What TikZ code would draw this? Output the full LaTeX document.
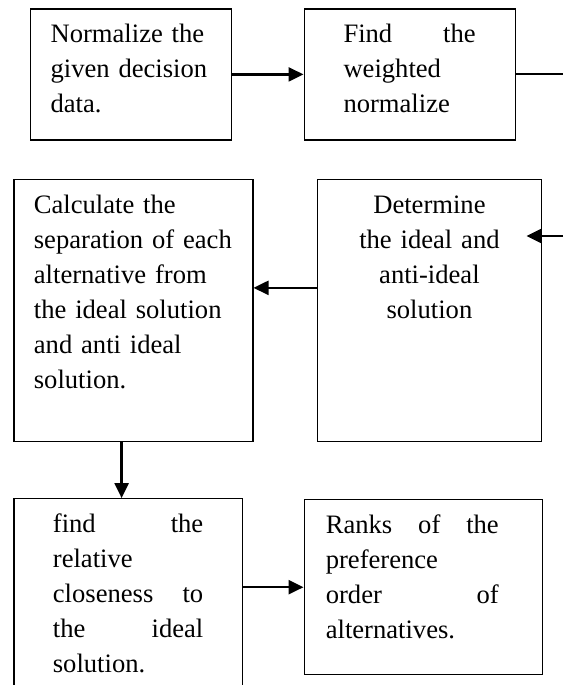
\documentclass[tikz,border=0pt]{standalone}
\usepackage{fontspec}
\setmainfont{Liberation Serif}
\usetikzlibrary{positioning,arrows.meta}

\tikzstyle{arrow} = [line width=1.2pt,-{Triangle[length=7.5pt,width=7pt]}]
\tikzstyle{link} = [line width=1pt]
\tikzstyle{stepbox} = [
        rectangle,
        draw=black,
        line width=0.6pt,
        inner ysep=0pt,
        text height=17pt,
        font=\fontsize{13.3pt}{17.5pt}\selectfont
    ]

\begin{document}
\begin{tikzpicture}
        \useasboundingbox (0,0) rectangle (281.5pt,-342.5pt);
        \coordinate (edgeR) at (281.5pt,0);
        % top row
        \node [stepbox, anchor=north west, align=left, inner xsep=10pt, text width=80.35pt, text depth=48.5pt] (normA) at (15pt,-4.15pt) {Normalize the\\given decision\\data.};
        \node [stepbox, right=35.8pt of normA, align=justify, inner xsep=19.7pt, text width=66.1pt, text depth=48.5pt] (findB) {Find the\linebreak weighted\linebreak normalize};
        \draw [arrow] (normA) -- (findB);
        \coordinate (outB) at (findB.east -| edgeR);
        \draw [link] (findB.east) -- (outB);
        % middle row
        \node [stepbox, below=19pt of normA.south west, anchor=north west, xshift=-8.35pt, align=left, inner xsep=10pt, text width=99.5pt, text depth=114.35pt] (calcD) {Calculate the\\separation of each\\alternative from\\the ideal solution\\and anti ideal\\solution.};
        \node [stepbox, right=31.85pt of calcD.north east, anchor=north west, align=center, inner xsep=10pt, text width=91.65pt, text depth=114.35pt] (detC) {Determine\\the ideal and\\anti-ideal\\solution};
        \coordinate (inC) at (281.5pt,-118pt);
        \draw [arrow] (inC) -- ([xshift=-7.65pt]inC -| detC.east);
        \draw [arrow] ([yshift=11.3pt]detC.west) -- ([yshift=11.3pt]calcD.east);
        % bottom row
        \node [stepbox, below=27.85pt of calcD.south west, anchor=north west, align=justify, inner xsep=19.5pt, text width=75.2pt, text depth=83pt] (closeE) {find the\linebreak relative\linebreak closeness to\linebreak the ideal\linebreak solution.};
        \node [stepbox, right=30.3pt of closeE.north east, anchor=north west, yshift=-0.5pt, align=justify, inner xsep=10.85pt, text width=97.5pt, text depth=70.5pt, execute at begin node={\rightskip=11pt\relax}] (ranksF) {Ranks of the\linebreak preference\linebreak order of\linebreak alternatives.};
        \draw [arrow] ([xshift=-5.9pt]calcD.south) -- ([xshift=-5.9pt]calcD.south |- closeE.north);
        \draw [arrow] (closeE.east |- ranksF.west) -- (ranksF.west);
\end{tikzpicture}
\end{document}
